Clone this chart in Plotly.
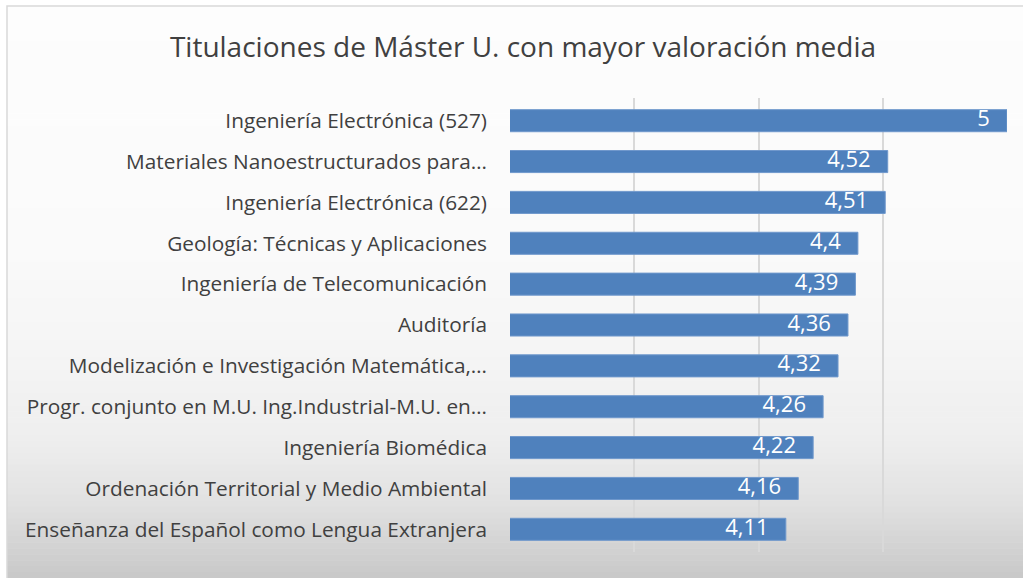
import plotly.graph_objects as go

categories = [
    "Ingeniería Electrónica (527)",
    "Materiales Nanoestructurados para…",
    "Ingeniería Electrónica (622)",
    "Geología: Técnicas y Aplicaciones",
    "Ingeniería de Telecomunicación",
    "Auditoría",
    "Modelización e Investigación Matemática,…",
    "Progr. conjunto en M.U. Ing.Industrial-M.U. en…",
    "Ingeniería Biomédica",
    "Ordenación Territorial y Medio Ambiental",
    "Enseñanza del Español como Lengua Extranjera",
]
values = [5, 4.52, 4.51, 4.4, 4.39, 4.36, 4.32, 4.26, 4.22, 4.16, 4.11]
title_text = "Titulaciones de Máster U. con mayor valoración media"

W, H = 1023, 578
L, R, T, B = 510, 16, 98, 26
pw, ph = W - L - R, H - T - B

def px_to_paper(x, y):
    return (x - L) / pw, (H - B - y) / ph

# background gradient stops (pixel y, gray level)
stops = [(0, 253), (250, 250), (350, 245), (440, 238), (500, 226), (578, 200)]

def gray_at(y):
    for (y0, g0), (y1, g1) in zip(stops[:-1], stops[1:]):
        if y0 <= y <= y1:
            t = (y - y0) / (y1 - y0)
            return g0 + (g1 - g0) * t
    return stops[-1][1]

shapes = []
n = 96
for i in range(n):
    y0 = 6 + (H - 6) * i / n
    y1 = 6 + (H - 6) * (i + 1) / n
    g = int(round(gray_at((y0 + y1) / 2)))
    x0p, y0p = px_to_paper(7, y0)
    x1p, y1p = px_to_paper(W + 5, y1 + 0.6)
    shapes.append(dict(type="rect", xref="paper", yref="paper", layer="below",
                       x0=x0p, x1=x1p, y0=y1p, y1=y0p,
                       fillcolor=f"rgb({g},{g},{g})", line=dict(width=0)))
# border
bx0, by0 = px_to_paper(7, 6)
bx1, by1 = px_to_paper(W + 5, H + 5)
shapes.append(dict(type="rect", xref="paper", yref="paper", layer="below",
                   x0=bx0, x1=bx1, y0=by1, y1=by0,
                   line=dict(color="#d9d9d9", width=1.5)))

fig = go.Figure()
fig.add_trace(go.Bar(
    x=values, y=categories, orientation="h",
    marker=dict(color="#4f81bd", line=dict(color="#6f98cc", width=1)),
    textposition="none", hoverinfo="x+y",
))
fig.add_trace(go.Scatter(
    x=values, y=categories, mode="text",
    text=[f"{v:g}".replace(".", ",") + "\u00a0\u00a0\u00a0" for v in values],
    textposition="middle left",
    textfont=dict(color="white", size=22, family="Open Sans"),
    cliponaxis=False, hoverinfo="skip",
))

fig.update_layout(
    width=W, height=H,
    margin=dict(l=L, r=R, t=T, b=B),
    paper_bgcolor="white", plot_bgcolor="rgba(0,0,0,0)",
    separators=",.",
    font=dict(family="Open Sans", color="#404040"),
    title=dict(text=title_text, x=523 / W, xref="container", xanchor="center",
               y=1 - 47 / H, yref="container", yanchor="middle",
               font=dict(size=28, color="#404040", family="Open Sans")),
    bargap=0.46,
    shapes=shapes,
    showlegend=False,
)
fig.update_xaxes(range=[3, 5], dtick=0.5, showgrid=True, gridcolor="#d9d9d9", gridwidth=1.5,
                 showticklabels=False, zeroline=False, showline=False, fixedrange=True)
fig.update_yaxes(categoryorder="array", categoryarray=categories, autorange="reversed",
                 tickfont=dict(size=20.8, color="#404040", family="Open Sans"),
                 ticks="", ticklabelstandoff=22, showline=False, showgrid=False)

fig.write_html("out.html", config={"displayModeBar": False},
               post_script="document.body.style.margin='0';document.body.style.padding='0';")
